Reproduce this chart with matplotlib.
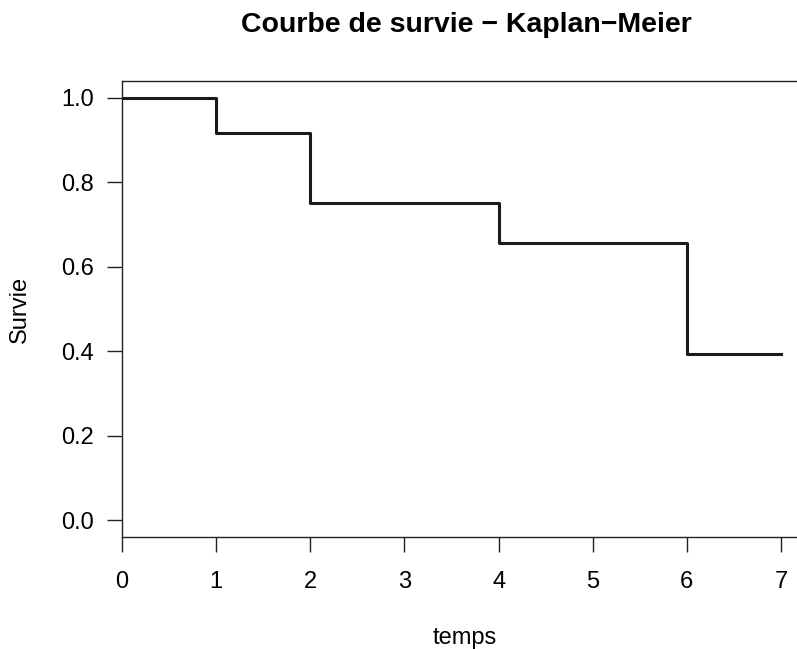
import numpy as np
import matplotlib.pyplot as plt

plt.rcParams['font.family'] = ['Liberation Sans', 'DejaVu Sans']

# Kaplan-Meier step curve values
temps = [0, 1, 2, 4, 6, 7]
survie = [1.0, 0.917, 0.75, 0.656, 0.394, 0.394]
x_ticks = [0, 1, 2, 3, 4, 5, 6, 7]
y_ticks = [0.0, 0.2, 0.4, 0.6, 0.8, 1.0]

W, H = 797, 649
fig = plt.figure(figsize=(W / 100, H / 100), dpi=100)

# plot region (in pixels) -- right edge runs past the figure like the original
left, top, bottom = 122, 81, 537
px_per_unit = (781 - 122) / 7.0
xmax = 7.3
ax = fig.add_axes([left / W, (H - bottom) / H, xmax * px_per_unit / W, (bottom - top) / H])

ax.step(temps, survie, where='post', color='#1a1a1a', lw=2.2)

ax.set_xlim(0, xmax)
ax.set_ylim(-0.04, 1.04)
for s in ax.spines.values():
    s.set_linewidth(1.0)
    s.set_color('#222222')

ax.set_xticks(x_ticks)
ax.set_yticks(y_ticks)
ax.set_yticklabels(["%.1f" % v for v in y_ticks])
ax.tick_params(axis='both', direction='out', length=10.5, width=1.0, color='#222222',
               labelsize=17, pad=10)
ax.tick_params(axis='x', pad=14)

# axis labels and title placed in pixel coords
fig.text(465 / W, 1 - 638 / H, "temps", ha='center', va='center', fontsize=17)
fig.text(20 / W, 1 - 309 / H, "Survie", ha='center', va='center', fontsize=17, rotation=90)
fig.text(466 / W, 1 - 25 / H, "Courbe de survie \u2212 Kaplan\u2212Meier",
         ha='center', va='center', fontsize=20.5, fontweight='bold')

fig.savefig("out.png", dpi=100)
